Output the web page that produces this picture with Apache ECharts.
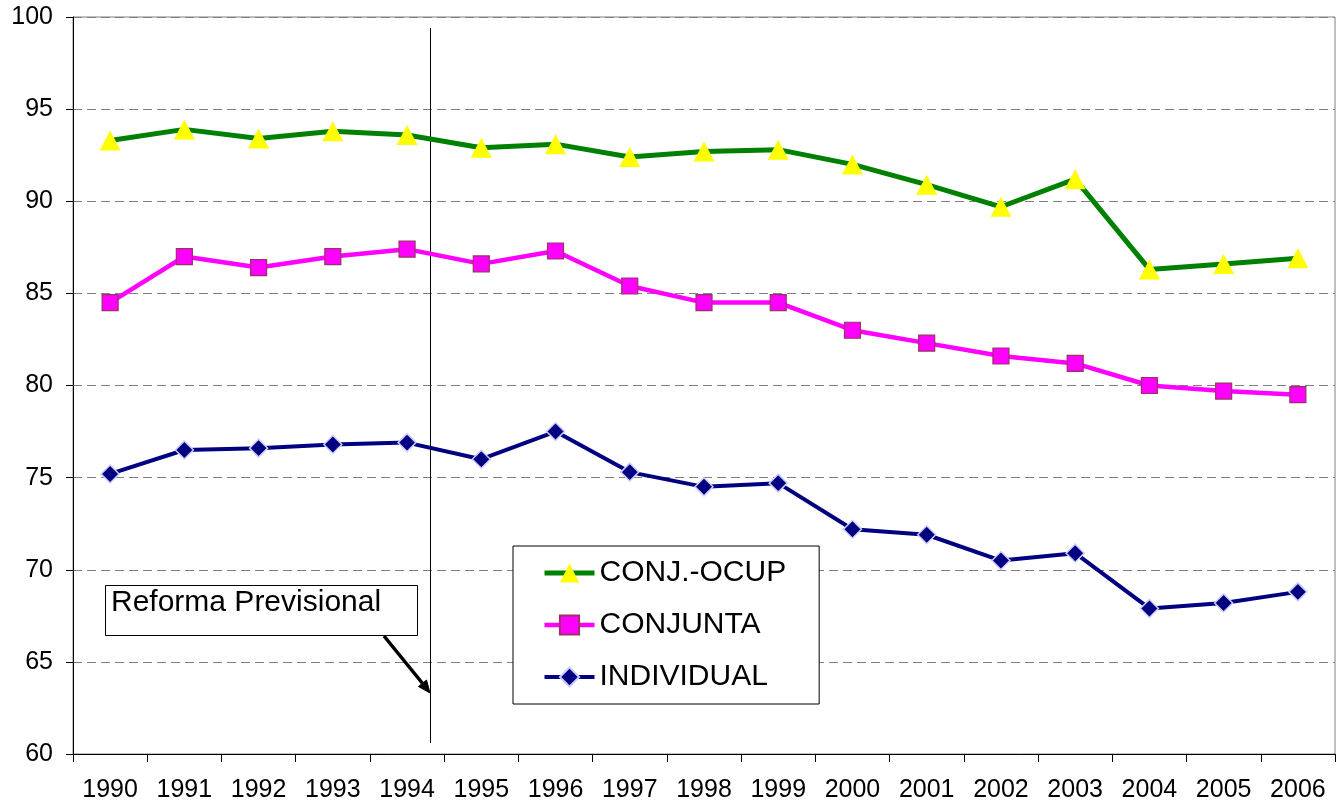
<!DOCTYPE html>
<html>
<head>
<meta charset="utf-8">
<script src="https://cdn.jsdelivr.net/npm/echarts@6/dist/echarts.min.js"></script>
<style>
html,body{margin:0;padding:0;background:#fff;}
#chart{width:1337px;height:806px;}
</style>
</head>
<body>
<div id="chart"></div>
<script>
const years = ['1990','1991','1992','1993','1994','1995','1996','1997','1998','1999','2000','2001','2002','2003','2004','2005','2006'];
const conjOcup = [93.3,93.9,93.4,93.8,93.6,92.9,93.1,92.4,92.7,92.8,92.0,90.9,89.7,91.2,86.3,86.6,86.9];
const conjunta = [84.5,87.0,86.4,87.0,87.4,86.6,87.3,85.4,84.5,84.5,83.0,82.3,81.6,81.2,80.0,79.7,79.5];
const individual = [75.2,76.5,76.6,76.8,76.9,76.0,77.5,75.3,74.5,74.7,72.2,71.9,70.5,70.9,67.9,68.2,68.8];
const yTicks = {min:60, max:100, interval:5};
const annotationText = 'Reforma Previsional';

const FONT = '"Liberation Sans", Arial, sans-serif';
const chart = echarts.init(document.getElementById('chart'));
chart.setOption({
  animation:false,
  backgroundColor:'#ffffff',
  textStyle:{fontFamily:FONT},
  grid:{left:73,right:2,top:17,bottom:52,show:true,borderColor:'#808080',borderWidth:1,backgroundColor:'transparent'},
  xAxis:{
    type:'category', data:years, boundaryGap:true,
    axisLine:{show:true,lineStyle:{color:'#000',width:1}},
    axisTick:{show:true,length:8,inside:false,lineStyle:{color:'#000'}},
    axisLabel:{color:'#000',fontSize:25,fontFamily:FONT,margin:24,interval:0},
    splitLine:{show:false}
  },
  yAxis:{
    type:'value', min:yTicks.min, max:yTicks.max, interval:yTicks.interval,
    axisLine:{show:true,lineStyle:{color:'#000',width:1}},
    axisTick:{show:true,length:7,lineStyle:{color:'#000'}},
    axisLabel:{color:'#000',fontSize:25,fontFamily:FONT,margin:20},
    splitLine:{show:true,lineStyle:{color:'#808080',width:1,type:[9,5]}}
  },
  legend:{
    orient:'vertical', left:513, top:546,
    padding:[12,33,12,29], itemGap:22,
    itemWidth:50, itemHeight:24,
    backgroundColor:'#fff', borderColor:'#000', borderWidth:1, borderRadius:0,
    textStyle:{color:'#000',fontSize:30,fontFamily:FONT},
    data:[
      {name:'CONJ.-OCUP', lineStyle:{width:5,color:'#008000'}},
      {name:'CONJUNTA', lineStyle:{width:4.5,color:'#FF00FF'}},
      {name:'INDIVIDUAL', lineStyle:{width:4,color:'#000080'}}
    ]
  },
  series:[
    {name:'CONJ.-OCUP', type:'line', data:conjOcup, symbol:'triangle', symbolSize:[21,20],
     lineStyle:{color:'#008000',width:5}, itemStyle:{color:'#FFFF00',borderWidth:0}, z:3},
    {name:'CONJUNTA', type:'line', data:conjunta, symbol:'rect', symbolSize:16,
     lineStyle:{color:'#FF00FF',width:4.5}, itemStyle:{color:'#FF00FF',borderColor:'#993366',borderWidth:1.2}, z:3},
    {name:'INDIVIDUAL', type:'line', data:individual, symbol:'diamond', symbolSize:[18,18],
     lineStyle:{color:'#000080',width:4}, itemStyle:{color:'#000080',borderColor:'#CCCCFF',borderWidth:1.5}, z:3}
  ],
  graphic:[
    {type:'line', shape:{x1:430.5,y1:28,x2:430.5,y2:743}, style:{stroke:'#000',lineWidth:1}, z:1},
    {type:'rect', shape:{x:105.5,y:585.5,width:312,height:50}, style:{fill:'#fff',stroke:'#000',lineWidth:1}, z:10},
    {type:'text', left:111, top:588, style:{text:annotationText,fill:'#000',fontSize:30,fontFamily:FONT}, z:11},
    {type:'line', shape:{x1:384,y1:636,x2:423,y2:684}, style:{stroke:'#000',lineWidth:3.5}, z:11},
    {type:'polygon', shape:{points:[[430,693],[426.5,680],[418.5,686.5]]}, style:{fill:'#000',stroke:'#000',lineWidth:1}, z:11}
  ]
});
</script>
</body>
</html>
